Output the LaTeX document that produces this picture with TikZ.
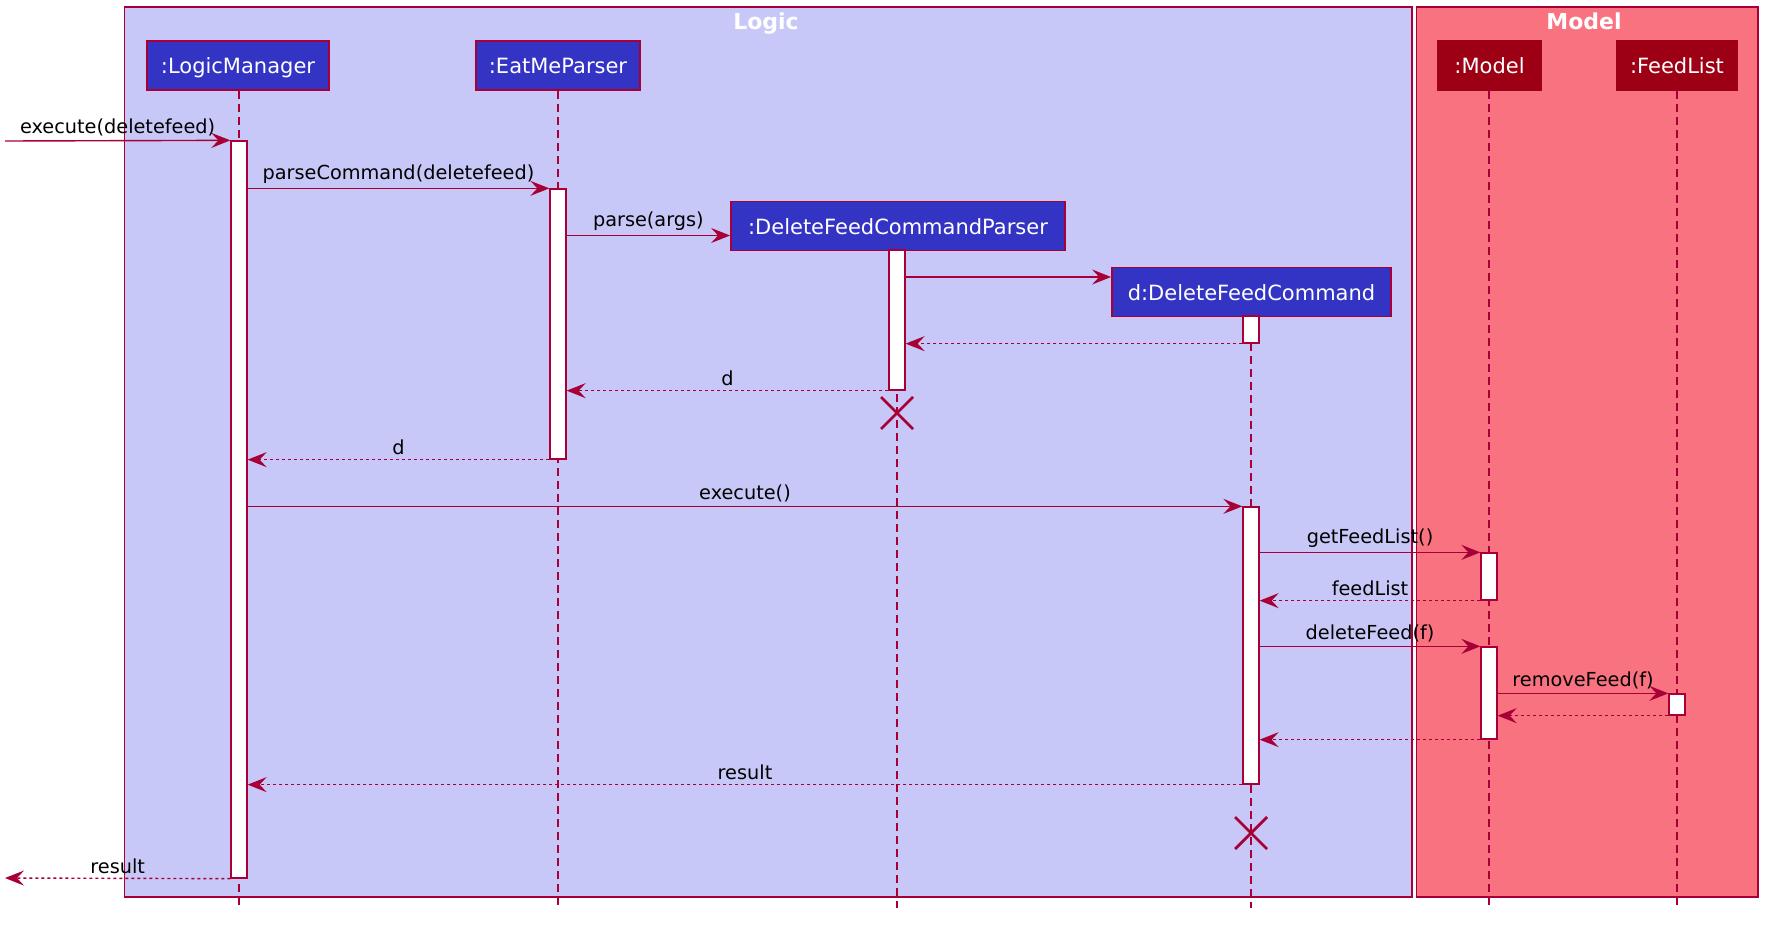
\documentclass[tikz,border=0pt]{standalone}
\usepackage{fontspec}
\setmainfont{DejaVu Sans}
\usetikzlibrary{arrows.meta,calc}
\definecolor{crim}{RGB}{168,0,54}
\definecolor{logicbg}{RGB}{200,200,248}
\definecolor{modelbg}{RGB}{249,114,128}
\definecolor{partblue}{RGB}{52,52,196}
\definecolor{partred}{RGB}{157,0,20}
\tikzset{
  grp/.style={draw=crim,line width=1.5pt},
  grptitle/.style={text=white,font=\fontsize{22}{26}\selectfont\bfseries,inner sep=0pt,anchor=base},
  part/.style={draw=crim,line width=1.8pt,fill=partblue,text=white,font=\fontsize{21}{25}\selectfont,minimum height=49pt,inner sep=0pt,text height=16pt,text depth=0pt},
  mpart/.style={part,fill=partred,draw=partred!85!crim},
  life/.style={draw=crim,line width=1.2pt,dash pattern=on 8pt off 5pt},
  act/.style={draw=crim,line width=1.3pt,fill=white,minimum width=16pt,inner sep=0pt},
  msg/.style={draw=crim,line width=1.4pt,-{Stealth[length=19pt,width=15pt,inset=7pt]}},
  ret/.style={msg,dash pattern=on 3pt off 3pt},
  lbl/.style={font=\fontsize{19.3}{23}\selectfont,inner sep=0pt,above=4pt},
  killx/.style={draw=crim,line width=2.8pt},
}
\begin{document}
\begin{tikzpicture}[x=1pt,y=-1pt]
\useasboundingbox (0,0) rectangle (1774,926);
% groups
\draw[grp,fill=logicbg] (124.5,6.8) rectangle (1412,897);
\draw[grp,fill=modelbg] (1416.5,6.8) rectangle (1758,897);
\node[grptitle] (tlogic) at (766,29) {Logic};
\node[grptitle] (tmodel) at (1584,29) {Model};
% participants
\node[part,minimum width=182pt] (lm) at (238,65.5) {:LogicManager};
\node[part,minimum width=164pt] (emp) at (558,65.5) {:EatMeParser};
\node[part,minimum width=334pt] (dfcp) at (898,226) {:DeleteFeedCommandParser};
\node[part,minimum width=279pt] (dfc) at (1251.5,292) {d:DeleteFeedCommand};
\node[mpart,minimum width=103pt] (mdl) at (1489.5,65.5) {:Model};
\node[mpart,minimum width=120pt] (fl) at (1677,65.5) {:FeedList};
% lifeline ends
\coordinate (lmE) at (239,908);
\coordinate (empE) at (558,908);
\coordinate (dfcpE) at (897,908);
\coordinate (dfcE) at (1251,908);
\coordinate (mdlE) at (1489,908);
\coordinate (flE) at (1677,908);
\draw[life] (lm.south -| lmE) -- (lmE);
\draw[life] (emp.south -| empE) -- (empE);
\draw[life] (dfcp.south -| dfcpE) -- (dfcpE);
\draw[life] (dfc.south -| dfcE) -- (dfcE);
\draw[life] (mdl.south -| mdlE) -- (mdlE);
\draw[life] (fl.south -| flE) -- (flE);
% activations
\node[act,minimum height=737pt] (aLM) at (239,509.5) {};
\node[act,minimum height=270pt] (aEMP) at (558,324) {};
\node[act,minimum height=140pt] (aDFCP) at (897,320) {};
\node[act,minimum height=27pt] (aD1) at (1251,329.5) {};
\node[act,minimum height=277pt] (aD2) at (1251,645.5) {};
\node[act,minimum height=47pt] (aM1) at (1489,576.5) {};
\node[act,minimum height=92pt] (aM2) at (1489,693) {};
\node[act,minimum height=21pt] (aFL) at (1677,704.5) {};
% free ends
\coordinate (inS) at (5,141);
\coordinate (outE) at (5,878);
\coordinate (pA) at (0,235.5);
\coordinate (cA) at (0,277);
% messages
\draw[msg] (inS) -- node[lbl]{execute(deletefeed)} (aLM.north west);
\draw[msg] (aLM.east |- aEMP.north) -- node[lbl]{parseCommand(deletefeed)} (aEMP.north west);
\draw[msg] (aEMP.east |- pA) -- node[lbl]{parse(args)} (dfcp.west |- pA);
\draw[msg] (aDFCP.east |- cA) -- (dfc.west |- cA);
\draw[ret] (aD1.south west) -- (aDFCP.east |- aD1.south);
\draw[ret] (aDFCP.south west) -- node[lbl]{d} (aEMP.east |- aDFCP.south);
\draw[ret] (aEMP.south west) -- node[lbl]{d} (aLM.east |- aEMP.south);
\draw[msg] (aLM.east |- aD2.north) -- node[lbl]{execute()} (aD2.north west);
\draw[msg] (aD2.east |- aM1.north) -- node[lbl]{getFeedList()} (aM1.north west);
\draw[ret] (aM1.south west) -- node[lbl]{feedList} (aD2.east |- aM1.south);
\draw[msg] (aD2.east |- aM2.north) -- node[lbl]{deleteFeed(f)} (aM2.north west);
\draw[msg] (aM2.east |- aFL.north) -- node[lbl]{removeFeed(f)} (aFL.north west);
\draw[ret] (aFL.south west) -- (aM2.east |- aFL.south);
\draw[ret] (aM2.south west) -- (aD2.east |- aM2.south);
\draw[ret] (aD2.south west) -- node[lbl]{result} (aLM.east |- aD2.south);
\draw[ret] (aLM.south west) -- node[lbl]{result} (outE);
% destroy marks
\coordinate (x1) at (897,413);
\coordinate (x2) at (1251,833);
\draw[killx] ($(x1)+(-16,-16)$) -- ($(x1)+(16,16)$) ($(x1)+(-16,16)$) -- ($(x1)+(16,-16)$);
\draw[killx] ($(x2)+(-16,-16)$) -- ($(x2)+(16,16)$) ($(x2)+(-16,16)$) -- ($(x2)+(16,-16)$);
\end{tikzpicture}
\end{document}
